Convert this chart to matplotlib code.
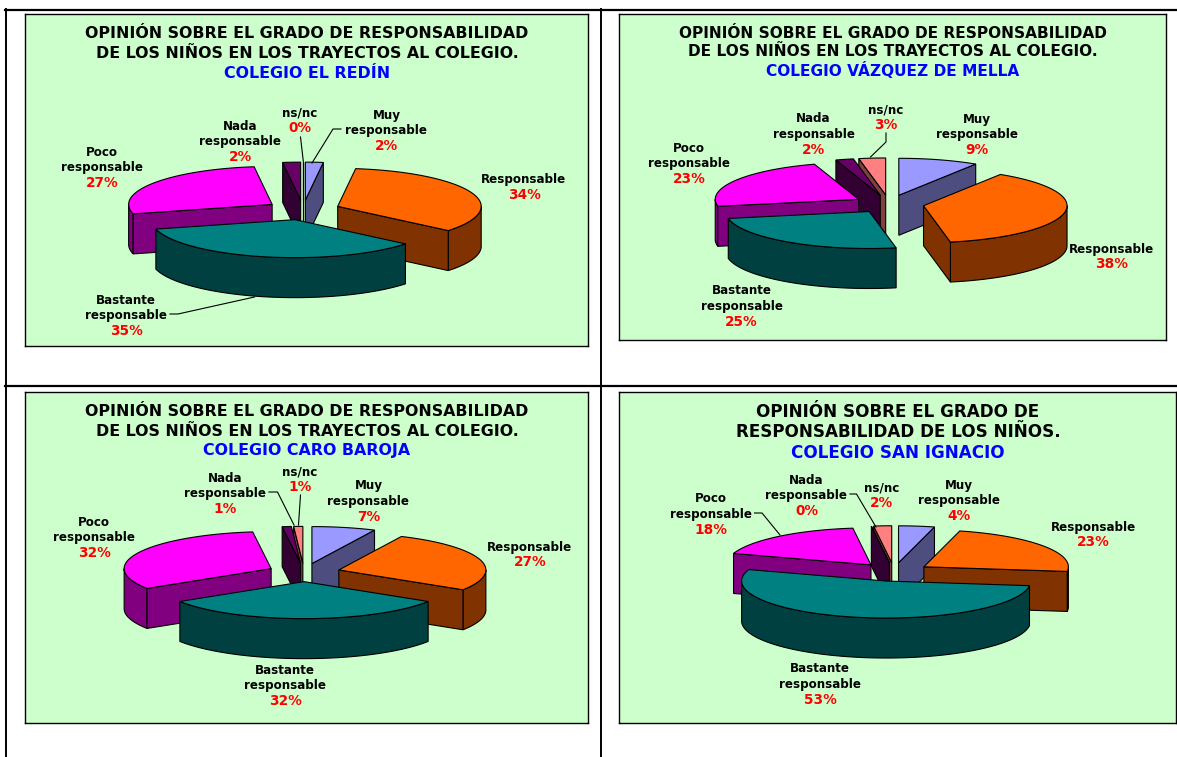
import numpy as np
import matplotlib
matplotlib.use('Agg')
from matplotlib import pyplot as plt
from matplotlib.patches import Polygon

W, H = 1177, 757

categories = ['Muy\nresponsable', 'Responsable', 'Bastante\nresponsable',
              'Poco\nresponsable', 'Nada\nresponsable', 'ns/nc']
redin = [2, 34, 35, 27, 2, 0]
vazquez = [9, 38, 25, 23, 2, 3]
caro = [7, 27, 32, 32, 1, 1]
ignacio = [4, 23, 53, 18, 0, 2]

title_redin = ['OPINIÓN SOBRE EL GRADO DE RESPONSABILIDAD', 'DE LOS NIÑOS EN LOS TRAYECTOS AL COLEGIO.', 'COLEGIO EL REDÍN']
title_vazquez = ['OPINIÓN SOBRE EL GRADO DE RESPONSABILIDAD', 'DE LOS NIÑOS EN LOS TRAYECTOS AL COLEGIO.', 'COLEGIO VÁZQUEZ DE MELLA']
title_caro = ['OPINIÓN SOBRE EL GRADO DE RESPONSABILIDAD', 'DE LOS NIÑOS EN LOS TRAYECTOS AL COLEGIO.', 'COLEGIO CARO BAROJA']
title_ignacio = ['OPINIÓN SOBRE EL GRADO DE', 'RESPONSABILIDAD DE LOS NIÑOS.', 'COLEGIO SAN IGNACIO']

top_colors = ['#9999FF', '#FF6600', '#008080', '#FF00FF', '#660066', '#FF8080']
wall_colors = ['#4D4D80', '#803300', '#004040', '#800080', '#330033', '#804040']
draw_order = [5, 4, 0, 3, 1, 2]

# frame is x0, x1, y0, y1 in image pixels; label spots are the centre of each first line
panels = [
    dict(values=redin, title=title_redin, frame=(25, 588, 14, 346), center=(303, 210), rx=143.5, ry=38, expl=0.26,
         title_x=307, title_y=(33, 53, 73), title_size=11.45,
         spots=[(386.5, 115), (524, 180), (126, 300), (102, 152), (240, 126), (300, 113)],
         leaders=[[(341, 129), (333, 129), (312, 163)], [(300.5, 137), (303.5, 163)],
                  [(170, 314), (178, 314), (254.5, 297)]]),
    dict(values=vazquez, title=title_vazquez, frame=(619, 1166, 14, 340), center=(889, 204), rx=143.5, ry=37, expl=0.245,
         title_x=893, title_y=(33, 52, 71), title_size=11.1,
         spots=[(976.5, 119), (1111.5, 249), (741.5, 291), (689, 148), (813.5, 119), (886, 110)],
         leaders=[[(886, 133), (886, 142), (870.5, 157)]]),
    dict(values=caro, title=title_caro, frame=(25, 588, 392, 723), center=(304, 572.5), rx=147, ry=37, expl=0.247,
         title_x=307, title_y=(412, 431, 450), title_size=11.45,
         spots=[(368.5, 486), (530, 547), (285, 670), (94, 522), (225, 478), (300, 472)],
         leaders=[[(269, 492), (277.5, 492), (294, 525)], [(300.5, 495), (298.5, 525)]]),
    dict(values=ignacio, title=title_ignacio, frame=(619, 1176, 392, 723), center=(894, 572), rx=144.5, ry=37, expl=0.25,
         title_x=898, title_y=(412, 432, 453), title_size=12.1,
         spots=[(959, 485), (1093, 527), (820, 669), (711, 499), (806.5, 480), (881.5, 488)],
         leaders=[[(850, 494), (856.5, 494), (876, 527)], [(754.5, 513), (762, 513), (780, 535)]]),
]

DEPTH = 40
LINE_H = 15.3


def arc(cx, cy, rx, ry, a0, a1):
    t = np.radians(np.linspace(a0, a1, max(int(abs(a1 - a0)) + 2, 2)))
    return np.column_stack([cx + rx * np.sin(t), cy - ry * np.cos(t)])


def drawSlice(ax, cx, cy, rx, ry, a0, a1, top, wall):
    # outer wall, only the part turned towards the viewer
    lo, hi = max(a0, 90), min(a1, 270)
    if hi > lo:
        upper = arc(cx, cy, rx, ry, lo, hi)
        lower = upper[::-1] + [0, DEPTH]
        ax.add_patch(Polygon(np.vstack([upper, lower]), fc=wall, ec='black', lw=0.8))
    # cut faces
    for a, show in ((a0, np.sin(np.radians(a0)) < 0), (a1, np.sin(np.radians(a1)) > 0)):
        if show:
            p = arc(cx, cy, rx, ry, a, a)[0]
            face = [(cx, cy), p, p + [0, DEPTH], (cx, cy + DEPTH)]
            ax.add_patch(Polygon(face, fc=wall, ec='black', lw=0.8))
    pts = np.vstack([[(cx, cy)], arc(cx, cy, rx, ry, a0, a1)])
    ax.add_patch(Polygon(pts, fc=top, ec='black', lw=0.8))


plt.rcParams['font.family'] = ['DejaVu Sans']
fig = plt.figure(figsize=(W / 100, H / 100), dpi=100, facecolor='white')

# table rules behind the charts
bg = fig.add_axes([0, 0, 1, 1])
bg.set_xlim(0, W)
bg.set_ylim(H, 0)
bg.axis('off')
bg.plot([5, W], [9.5, 9.5], color='black', lw=1.6)
bg.plot([5, W], [385.5, 385.5], color='black', lw=1.6)
bg.plot([5.5, 5.5], [9, H], color='black', lw=1.4)
bg.plot([600.5, 600.5], [9, H], color='black', lw=1.4)

for p in panels:
    x0, x1, y0, y1 = p['frame']
    ax = fig.add_axes([x0 / W, 1 - y1 / H, (x1 - x0) / W, (y1 - y0) / H])
    ax.set_xlim(x0, x1)
    ax.set_ylim(y1, y0)
    ax.set_facecolor('#CCFFCC')
    ax.set_xticks([])
    ax.set_yticks([])
    for s in ax.spines.values():
        s.set_linewidth(1.0)

    edges = np.cumsum([0] + p['values']) * 3.6
    cx, cy = p['center']
    for i in draw_order:
        a0, a1 = edges[i], edges[i + 1]
        mid = np.radians((a0 + a1) / 2)
        sx = cx + p['expl'] * p['rx'] * np.sin(mid)
        sy = cy - p['expl'] * p['ry'] * np.cos(mid)
        drawSlice(ax, sx, sy, p['rx'], p['ry'], a0, a1, top_colors[i], wall_colors[i])

    for path in p['leaders']:
        xs, ys = zip(*path)
        ax.plot(xs, ys, color='black', lw=0.8)

    for i, (tx, ty) in enumerate(p['spots']):
        lines = categories[i].split('\n')
        for k, line in enumerate(lines):
            ax.text(tx, ty + k * LINE_H, line, ha='center', va='center', fontsize=8.6,
                    fontweight='bold', color='black')
        ax.text(tx, ty + len(lines) * LINE_H, '%d%%' % p['values'][i], ha='center', va='center',
                fontsize=9.8, fontweight='bold', color='#FF0000')

    for k, line in enumerate(p['title']):
        ax.text(p['title_x'], p['title_y'][k], line, ha='center', va='center', fontsize=p['title_size'],
                fontweight='bold', color='#0000FF' if k == 2 else 'black')

fig.savefig('out.png', dpi=100)
